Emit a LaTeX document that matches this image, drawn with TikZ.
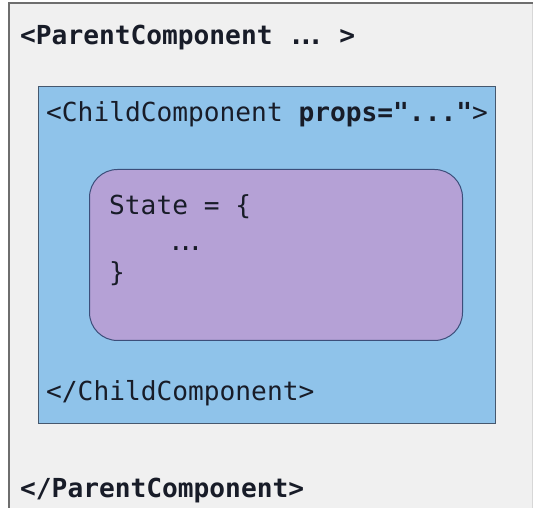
\documentclass[tikz,border=0pt]{standalone}
\usepackage{fontspec}
\setmonofont{DejaVu Sans Mono}
\definecolor{pagebg}{RGB}{240,240,240}
\definecolor{frameline}{RGB}{110,110,110}
\definecolor{framelight}{RGB}{215,215,215}
\definecolor{childfill}{RGB}{143,195,234}
\definecolor{childline}{RGB}{70,88,110}
\definecolor{statefill}{RGB}{181,161,214}
\definecolor{stateline}{RGB}{60,78,122}
\definecolor{codeink}{RGB}{24,28,40}
% three close-set dots, as drawn in the code lines
\newcommand\closedots{.\kern-6pt.\kern-6pt.}
\tikzset{
  code/.style={anchor=base west, inner sep=0pt, text=codeink,
    font=\ttfamily\fontsize{26.2}{30}\selectfont},
  boldcode/.style={code, font=\ttfamily\bfseries\fontsize{26.2}{30}\selectfont},
}
\begin{document}
\begin{tikzpicture}[x=1pt,y=1pt]
  \useasboundingbox (0,0) rectangle (536,508);
  \fill[white] (0,0) rectangle (536,508);
  % parent frame (open at the bottom)
  \fill[pagebg] (9,-5) rectangle (532,505);
  \draw[framelight, line width=1pt] (532,-5) -- (532,505);
  \draw[frameline, line width=1.6pt] (9,-5) -- (9,505) -- (532.5,505);
  % child component box
  \node[draw=childline, fill=childfill, line width=1.2pt, inner sep=0pt,
        minimum width=457pt, minimum height=337pt, anchor=north west]
        (child) at (38,422) {};
  % state box
  \node[draw=stateline, fill=statefill, line width=1pt, rounded corners=28pt,
        inner sep=0pt, minimum width=373pt, minimum height=171pt,
        anchor=north west] (state) at (89,339) {};
  % code text
  \node[boldcode] (popen) at (20,463) {<ParentComponent \closedots{} >};
  \node[code] (copen) at (46,386) {<ChildComponent \textbf{props="..."}>};
  \node[code] (sopen) at (109,293) {State = \{};
  \node[code] (sdots) at (168,257) {\closedots};
  \node[code] (sclose) at (109,226) {\}};
  \node[code] (cclose) at (46,107) {</ChildComponent>};
  \node[boldcode] (pclose) at (20,10) {</ParentComponent>};
\end{tikzpicture}
\end{document}
